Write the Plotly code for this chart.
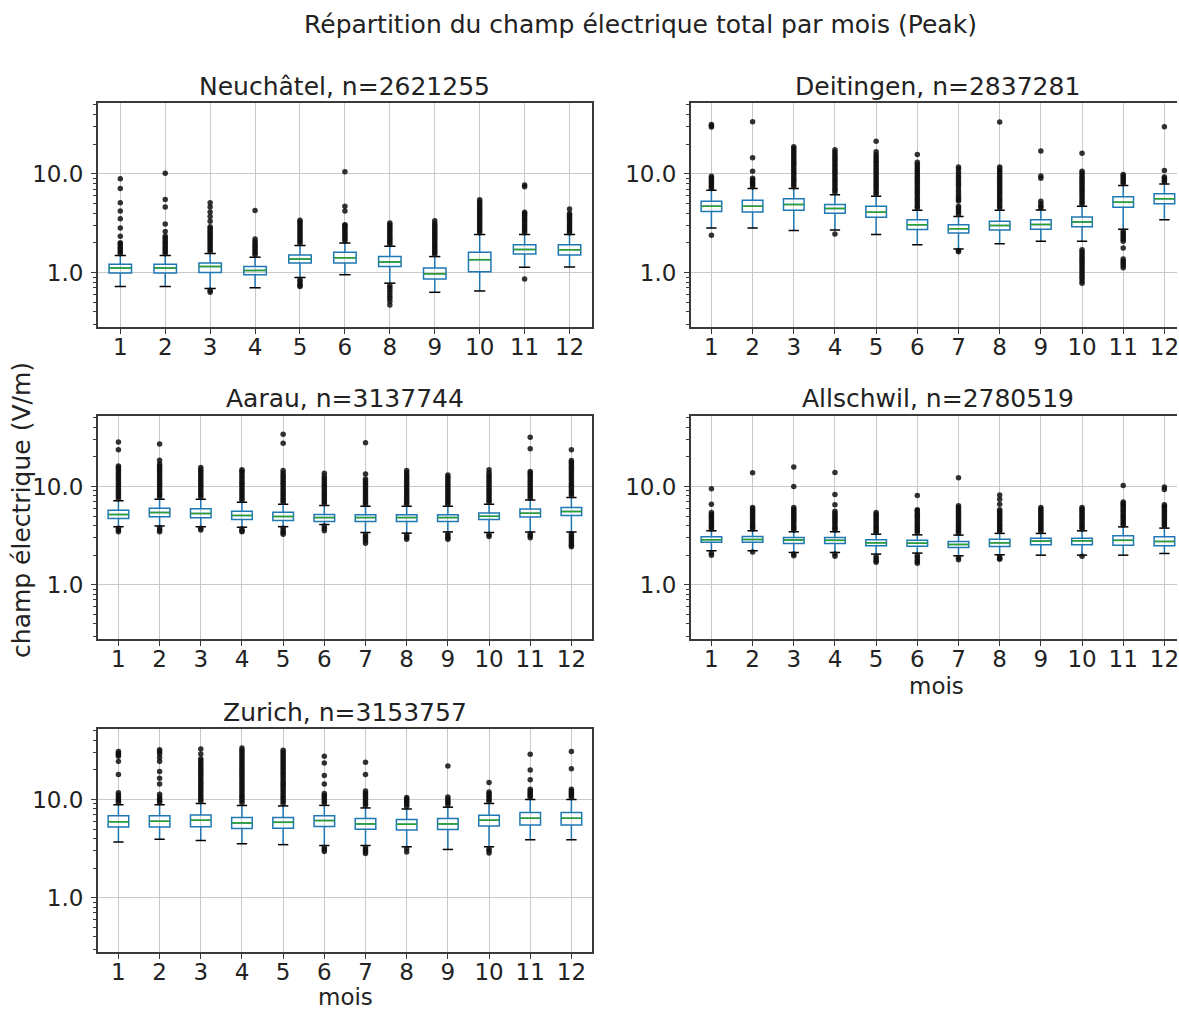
import plotly.graph_objects as go

# ---------------------------------------------------------------- data
MAIN_TITLE = "Répartition du champ électrique total par mois (Peak)"
Y_LABEL = "champ électrique (V/m)"
X_LABEL = "mois"

stations = ["Neuchâtel", "Deitingen", "Aarau", "Allschwil", "Zurich"]
n_obs = [2621255, 2837281, 3137744, 2780519, 3153757]

# Neuchâtel (no data for July)
neuchatel_months = [1, 2, 3, 4, 5, 6, 8, 9, 10, 11, 12]
neuchatel_q1 = [0.99, 0.99, 1.00, 0.95, 1.25, 1.25, 1.15, 0.86, 1.02, 1.54, 1.50]
neuchatel_med = [1.11, 1.11, 1.15, 1.05, 1.37, 1.41, 1.28, 0.97, 1.35, 1.71, 1.70]
neuchatel_q3 = [1.21, 1.21, 1.25, 1.15, 1.50, 1.60, 1.45, 1.11, 1.60, 1.91, 1.91]
neuchatel_lo = [0.72, 0.72, 0.69, 0.70, 0.89, 0.95, 0.78, 0.63, 0.65, 1.13, 1.14]
neuchatel_hi = [1.49, 1.49, 1.56, 1.43, 1.88, 1.99, 1.84, 1.45, 2.42, 2.42, 2.42]
neuchatel_fliers = [
    [1.55, 1.62, 1.70, 1.78, 1.86, 1.95, 2.0, 2.33, 2.83, 3.5, 4.19, 5.09, 7.1, 8.9],
    [1.55, 1.62, 1.70, 1.78, 1.86, 1.95, 2.04, 2.13, 2.23, 2.33, 2.6, 3.1, 4.6, 5.5, 10.1],
    [0.66, 0.63, 1.63, 1.70, 1.78, 1.86, 1.95, 2.04, 2.13, 2.23, 2.33, 2.44, 2.55, 2.67,
     2.8, 2.9, 3.3, 3.7, 4.1, 4.6, 5.1],
    [1.50, 1.57, 1.64, 1.72, 1.80, 1.88, 1.97, 2.06, 2.19, 4.24],
    [0.85, 0.81, 0.77, 0.74, 0.72, 1.97, 2.06, 2.16, 2.26, 2.37, 2.48, 2.6, 2.72, 2.85,
     2.98, 3.12, 3.25, 3.38],
    [2.08, 2.18, 2.28, 2.39, 2.5, 2.62, 2.74, 2.87, 3.0, 3.05, 4.19, 4.7, 10.5],
    [0.74, 0.70, 0.66, 0.62, 0.58, 0.55, 0.51, 0.47, 1.93, 2.02, 2.12, 2.22, 2.32, 2.43,
     2.54, 2.66, 2.78, 2.91, 3.05, 3.18],
    [1.52, 1.59, 1.66, 1.74, 1.82, 1.9, 1.99, 2.08, 2.18, 2.28, 2.39, 2.5, 2.62, 2.74,
     2.87, 3.0, 3.14, 3.35],
    [2.53, 2.65, 2.77, 2.9, 3.03, 3.17, 3.32, 3.47, 3.63, 3.8, 3.97, 4.15, 4.34, 4.54,
     4.75, 4.97, 5.2, 5.45],
    [0.86, 2.53, 2.65, 2.77, 2.9, 3.03, 3.17, 3.32, 3.47, 3.63, 3.8, 3.97, 4.07, 7.4, 7.7],
    [2.53, 2.65, 2.77, 2.9, 3.03, 3.17, 3.32, 3.47, 3.63, 3.8, 3.95, 4.4],
]

# Deitingen
deitingen_months = [1, 2, 3, 4, 5, 6, 7, 8, 9, 10, 11, 12]
deitingen_q1 = [4.14, 4.10, 4.27, 3.98, 3.62, 2.73, 2.51, 2.70, 2.75, 2.91, 4.58, 4.96]
deitingen_med = [4.69, 4.69, 4.88, 4.44, 4.07, 3.05, 2.78, 3.00, 3.07, 3.25, 5.15, 5.60]
deitingen_q3 = [5.27, 5.40, 5.57, 4.88, 4.69, 3.43, 3.05, 3.30, 3.43, 3.66, 5.84, 6.26]
deitingen_lo = [2.83, 2.83, 2.67, 2.70, 2.43, 1.91, 1.73, 1.96, 2.07, 2.07, 2.75, 3.43]
deitingen_hi = [6.80, 7.10, 7.10, 6.15, 5.92, 4.27, 3.70, 4.27, 4.30, 4.69, 7.60, 7.90]
deitingen_fliers = [
    [2.38, 7.1, 7.4, 7.7, 8.0, 8.35, 8.7, 9.05, 9.46, 29.8, 30.6, 31.5],
    [7.4, 7.7, 8.0, 8.35, 8.7, 9.0, 10.6, 14.5, 33.7],
    [7.4, 7.8, 8.2, 8.6, 9.0, 9.5, 10.0, 10.5, 11.0, 11.6, 12.2, 12.8, 13.4, 14.1, 14.8,
     15.5, 16.3, 17.1, 18.0, 18.8],
    [2.45, 6.45, 6.8, 7.1, 7.5, 7.9, 8.3, 8.7, 9.1, 9.6, 10.1, 10.6, 11.1, 11.7, 12.3,
     12.9, 13.6, 14.3, 15.0, 15.8, 16.6, 17.5],
    [6.2, 6.5, 6.85, 7.2, 7.55, 7.9, 8.3, 8.7, 9.15, 9.6, 10.1, 10.6, 11.1, 11.7, 12.3,
     12.9, 13.5, 14.2, 14.9, 15.7, 16.7, 21.3],
    [4.5, 4.7, 4.95, 5.2, 5.45, 5.7, 6.0, 6.3, 6.6, 6.9, 7.25, 7.6, 8.0, 8.4, 8.8, 9.2,
     9.7, 10.2, 10.7, 11.2, 11.8, 12.4, 13.1, 15.7],
    [1.67, 1.62, 3.9, 4.1, 4.3, 4.5, 4.69, 5.3, 5.5, 5.8, 6.1, 6.5, 6.9, 7.4, 7.8, 8.2,
     8.7, 9.2, 9.8, 10.4, 11.2, 11.7],
    [4.5, 4.7, 4.95, 5.2, 5.45, 5.7, 6.0, 6.3, 6.6, 6.9, 7.25, 7.6, 8.0, 8.4, 8.8, 9.2,
     9.7, 10.2, 10.7, 11.2, 11.7, 33.4],
    [4.5, 4.7, 4.95, 5.27, 9.0, 9.5, 17.0],
    [0.78, 0.82, 0.87, 0.91, 0.96, 1.01, 1.06, 1.11, 1.17, 1.23, 1.29, 1.35, 1.41, 1.48,
     1.55, 1.62, 1.7, 4.9, 5.15, 5.4, 5.7, 6.0, 6.3, 6.6, 6.9, 7.25, 7.6, 8.0, 8.4, 8.8,
     9.2, 9.7, 10.2, 10.6, 16.1],
    [1.12, 1.18, 1.24, 1.3, 1.37, 1.77, 2.07, 2.17, 2.27, 2.38, 2.5, 2.62, 7.95, 8.3, 8.7,
     9.1, 9.5, 9.85],
    [8.25, 8.6, 9.0, 9.3, 10.8, 30.0],
]

# Aarau
aarau_months = [1, 2, 3, 4, 5, 6, 7, 8, 9, 10, 11, 12]
aarau_q1 = [4.73, 4.91, 4.80, 4.60, 4.50, 4.40, 4.40, 4.40, 4.40, 4.60, 4.90, 5.06]
aarau_med = [5.19, 5.44, 5.30, 5.06, 4.95, 4.82, 4.82, 4.82, 4.82, 4.97, 5.35, 5.56]
aarau_q3 = [5.74, 6.02, 5.93, 5.60, 5.47, 5.20, 5.15, 5.15, 5.15, 5.37, 5.90, 6.10]
aarau_lo = [3.90, 3.95, 3.90, 3.85, 3.90, 4.10, 3.40, 3.35, 3.45, 3.40, 3.45, 3.45]
aarau_hi = [7.14, 7.43, 7.43, 6.90, 6.60, 6.40, 6.30, 6.30, 6.30, 6.60, 7.30, 7.70]
aarau_fliers = [
    [3.46, 3.6, 3.75, 7.5, 7.9, 8.3, 8.7, 9.1, 9.6, 10.1, 10.6, 11.1, 11.7, 12.3, 12.9,
     13.5, 14.2, 14.9, 15.6, 16.2, 23.7, 28.4],
    [3.46, 3.6, 3.8, 7.8, 8.2, 8.6, 9.0, 9.5, 10.0, 10.5, 11.0, 11.6, 12.2, 12.8, 13.4,
     14.1, 14.8, 15.5, 16.2, 16.9, 18.5, 27.1],
    [3.6, 3.75, 7.8, 8.2, 8.6, 9.0, 9.5, 10.0, 10.5, 11.0, 11.6, 12.2, 12.8, 13.4, 14.1,
     14.8, 15.6],
    [3.46, 3.55, 3.7, 7.25, 7.6, 8.0, 8.4, 8.8, 9.2, 9.7, 10.2, 10.7, 11.2, 11.8, 12.4,
     13.0, 13.7, 14.3, 14.8],
    [3.27, 3.4, 3.55, 3.75, 6.9, 7.25, 7.6, 8.0, 8.4, 8.8, 9.2, 9.7, 10.2, 10.7, 11.2,
     11.8, 12.4, 13.0, 13.7, 14.5, 27.5, 34.0],
    [3.55, 3.75, 3.95, 6.7, 7.0, 7.35, 7.7, 8.1, 8.5, 8.9, 9.3, 9.8, 10.3, 10.8, 11.4,
     12.0, 12.6, 13.6],
    [2.65, 2.8, 2.95, 3.1, 3.25, 6.6, 6.9, 7.25, 7.6, 8.0, 8.4, 8.8, 9.2, 9.7, 10.2,
     10.7, 11.3, 11.9, 13.4, 27.9],
    [2.9, 3.05, 3.2, 6.6, 6.9, 7.25, 7.6, 8.0, 8.4, 8.8, 9.2, 9.7, 10.2, 10.7, 11.3,
     11.9, 12.5, 13.1, 13.8, 14.5],
    [2.9, 3.0, 3.15, 3.3, 6.6, 6.9, 7.25, 7.6, 8.0, 8.4, 8.8, 9.2, 9.7, 10.2, 10.7, 11.3,
     11.9, 12.5, 13.1],
    [3.1, 3.25, 6.9, 7.25, 7.6, 8.0, 8.4, 8.8, 9.2, 9.7, 10.2, 10.7, 11.3, 11.9, 12.5,
     13.1, 13.8, 14.8],
    [3.0, 3.15, 3.3, 7.6, 8.0, 8.4, 8.8, 9.2, 9.7, 10.2, 10.7, 11.3, 11.9, 12.5, 13.1,
     13.7, 14.2, 24.2, 31.6],
    [2.43, 2.52, 2.63, 2.75, 2.87, 3.0, 3.15, 3.3, 8.1, 8.5, 8.9, 9.3, 9.8, 10.3, 10.8,
     11.4, 12.0, 12.6, 13.2, 13.9, 14.6, 15.3, 16.1, 16.9, 17.6, 18.4, 23.7],
]

# Allschwil
allschwil_months = [1, 2, 3, 4, 5, 6, 7, 8, 9, 10, 11, 12]
allschwil_q1 = [2.70, 2.70, 2.63, 2.63, 2.49, 2.47, 2.40, 2.45, 2.55, 2.55, 2.53, 2.49]
allschwil_med = [2.87, 2.89, 2.85, 2.83, 2.67, 2.65, 2.57, 2.67, 2.78, 2.80, 2.83, 2.76]
allschwil_q3 = [3.07, 3.10, 3.03, 3.03, 2.87, 2.83, 2.76, 2.91, 2.98, 2.98, 3.15, 3.07]
allschwil_lo = [2.22, 2.22, 2.13, 2.13, 2.05, 2.10, 1.97, 2.02, 2.00, 2.00, 2.00, 2.08]
allschwil_hi = [3.54, 3.54, 3.46, 3.46, 3.27, 3.22, 3.20, 3.33, 3.33, 3.54, 3.88, 3.77]
allschwil_fliers = [
    [2.0, 2.1, 3.7, 3.85, 4.0, 4.2, 4.4, 4.6, 4.8, 5.0, 5.2, 5.44, 6.6, 9.5],
    [2.15, 3.7, 3.85, 4.0, 4.2, 4.4, 4.6, 4.8, 5.0, 5.2, 5.45, 5.7, 5.9, 6.1, 13.8],
    [1.97, 2.05, 3.6, 3.75, 3.9, 4.1, 4.3, 4.5, 4.7, 4.9, 5.1, 5.35, 5.6, 5.85, 6.1,
     10.0, 15.8],
    [1.95, 2.05, 3.6, 3.75, 3.9, 4.1, 4.3, 4.5, 4.7, 4.9, 5.1, 5.35, 5.6, 6.5, 8.3, 13.9],
    [1.69, 1.77, 1.85, 1.95, 3.4, 3.55, 3.7, 3.85, 4.0, 4.2, 4.4, 4.6, 4.8, 5.0, 5.2, 5.44],
    [1.65, 1.72, 1.8, 1.9, 2.0, 3.4, 3.55, 3.7, 3.85, 4.0, 4.2, 4.4, 4.6, 4.8, 5.0, 5.2,
     5.45, 5.7, 5.8, 8.1],
    [1.80, 1.88, 3.35, 3.5, 3.65, 3.8, 3.95, 4.1, 4.3, 4.5, 4.7, 4.9, 5.1, 5.35, 5.6,
     5.85, 6.1, 6.35, 12.3],
    [1.82, 1.85, 1.93, 3.5, 3.65, 3.8, 3.95, 4.1, 4.3, 4.5, 4.7, 4.9, 5.1, 5.35, 5.6, 5.8,
     6.6, 7.4, 8.2],
    [3.5, 3.65, 3.8, 3.95, 4.1, 4.3, 4.5, 4.7, 4.9, 5.1, 5.35, 5.6, 5.85, 6.1],
    [1.95, 3.7, 3.85, 4.0, 4.2, 4.4, 4.6, 4.8, 5.0, 5.2, 5.45, 5.7, 5.9, 6.1],
    [4.05, 4.2, 4.4, 4.6, 4.8, 5.0, 5.2, 5.45, 5.7, 5.95, 6.2, 6.45, 6.7, 6.95, 10.2],
    [3.95, 4.1, 4.3, 4.5, 4.7, 4.9, 5.1, 5.35, 5.6, 5.85, 6.1, 6.3, 6.5, 9.3, 9.9],
]

# Zurich
zurich_months = [1, 2, 3, 4, 5, 6, 7, 8, 9, 10, 11, 12]
zurich_q1 = [5.24, 5.24, 5.28, 5.06, 5.10, 5.32, 4.98, 4.90, 4.94, 5.36, 5.51, 5.51]
zurich_med = [5.94, 6.00, 6.15, 5.75, 5.85, 6.10, 5.64, 5.60, 5.64, 6.15, 6.45, 6.45]
zurich_q3 = [6.84, 6.84, 6.94, 6.55, 6.55, 6.84, 6.42, 6.27, 6.42, 6.90, 7.35, 7.35]
zurich_lo = [3.69, 3.93, 3.83, 3.55, 3.47, 3.40, 3.40, 3.30, 3.10, 3.30, 3.90, 3.90]
zurich_hi = [8.84, 8.84, 9.10, 8.70, 8.60, 8.70, 8.20, 8.00, 8.35, 9.10, 10.0, 10.0]
zurich_fliers = [
    [9.3, 9.7, 10.1, 10.6, 11.1, 11.7, 17.9, 24.4, 27.5, 28.5, 29.5, 30.8],
    [9.3, 9.7, 10.1, 10.6, 11.3, 14.4, 16.4, 19.2, 24.4, 26.5, 29.0, 30.5, 32.0],
    [9.6, 10.1, 10.6, 11.1, 11.7, 12.3, 12.9, 13.6, 14.3, 15.0, 15.8, 16.6, 17.5, 18.4,
     19.3, 20.3, 21.3, 22.4, 23.5, 24.7, 26.0, 29.0, 32.7],
    [9.2, 9.7, 10.2, 10.7, 11.2, 11.8, 12.4, 13.0, 13.7, 14.4, 15.1, 15.9, 16.7, 17.5,
     18.4, 19.3, 20.3, 21.3, 22.4, 23.5, 24.7, 26.0, 27.3, 28.7, 30.2, 31.7, 33.4],
    [9.1, 9.6, 10.1, 10.6, 11.1, 11.7, 12.3, 12.9, 13.6, 14.3, 15.0, 15.8, 16.6, 17.5,
     18.4, 19.3, 20.3, 21.3, 22.4, 23.5, 24.7, 26.0, 27.3, 28.7, 30.2, 31.7],
    [2.96, 3.1, 3.25, 9.2, 9.6, 10.1, 10.6, 11.0, 11.5, 14.4, 17.5, 23.5, 27.5],
    [2.82, 2.96, 3.1, 3.25, 8.7, 9.1, 9.6, 10.1, 10.6, 11.1, 11.6, 12.2, 17.9, 23.9],
    [2.92, 3.15, 8.5, 8.9, 9.3, 9.7, 10.1, 10.5],
    [8.8, 9.2, 9.6, 10.1, 10.6, 21.9],
    [2.85, 3.0, 3.15, 9.6, 10.0, 10.5, 10.9, 11.4, 11.9, 14.9],
    [10.5, 10.9, 11.3, 11.8, 12.2, 12.7, 15.9, 20.0, 28.8],
    [10.5, 10.9, 11.3, 11.8, 12.2, 12.7, 20.5, 30.8],
]

y_tick_values = [1, 10]
y_tick_labels = ["1.0", "10.0"]
y_minor_values = [0.3, 0.4, 0.5, 0.6, 0.7, 0.8, 0.9, 2, 3, 4, 5, 6, 7, 8, 9, 20, 30, 40, 50]

# ---------------------------------------------------------------- styling
W, H = 1179, 1009
BOX_BLUE = "#1f77b4"
MEDIAN_GREEN = "#2ca02c"
SPINE = "#3a3a3a"
GRID = "#c9c9c9"
TEXT = "#222222"
FONT = "DejaVu Sans"
BOX_W = 0.5
CAP_W = 0.25

# pixel frames of each panel: (left, right, top, bottom)
frames = [
    (98, 593, 103, 327),
    (692, 1187, 103, 327),
    (98, 593, 416, 639),
    (692, 1187, 416, 639),
    (98, 593, 729, 952),
]
Y_RANGE = [-0.552, 1.717]

panels = [
    (neuchatel_months, neuchatel_q1, neuchatel_med, neuchatel_q3, neuchatel_lo,
     neuchatel_hi, neuchatel_fliers),
    (deitingen_months, deitingen_q1, deitingen_med, deitingen_q3, deitingen_lo,
     deitingen_hi, deitingen_fliers),
    (aarau_months, aarau_q1, aarau_med, aarau_q3, aarau_lo, aarau_hi, aarau_fliers),
    (allschwil_months, allschwil_q1, allschwil_med, allschwil_q3, allschwil_lo,
     allschwil_hi, allschwil_fliers),
    (zurich_months, zurich_q1, zurich_med, zurich_q3, zurich_lo, zurich_hi, zurich_fliers),
]

fig = go.Figure()
layout_axes = {}
annotations = []

for i, (months, q1, med, q3, lo, hi, fliers) in enumerate(panels):
    k = i + 1
    xref = "x" if k == 1 else f"x{k}"
    yref = "y" if k == 1 else f"y{k}"
    pos = list(range(1, len(months) + 1))

    # boxes and whiskers
    fig.add_trace(go.Box(
        x=pos, q1=q1, median=med, q3=q3, lowerfence=lo, upperfence=hi,
        width=BOX_W, whiskerwidth=0, boxpoints=False,
        line=dict(color=BOX_BLUE, width=1.5), fillcolor="rgba(0,0,0,0)",
        xaxis=xref, yaxis=yref, showlegend=False, hoverinfo="skip",
    ))

    # whisker caps (black) and medians (green)
    cx, cy, mx, my = [], [], [], []
    for p, a, b, m in zip(pos, lo, hi, med):
        cx += [p - CAP_W / 2, p + CAP_W / 2, None, p - CAP_W / 2, p + CAP_W / 2, None]
        cy += [a, a, None, b, b, None]
        mx += [p - BOX_W / 2, p + BOX_W / 2, None]
        my += [m, m, None]
    fig.add_trace(go.Scatter(x=cx, y=cy, mode="lines", line=dict(color="black", width=1.5),
                             xaxis=xref, yaxis=yref, showlegend=False, hoverinfo="skip"))
    fig.add_trace(go.Scatter(x=mx, y=my, mode="lines",
                             line=dict(color=MEDIAN_GREEN, width=1.5),
                             xaxis=xref, yaxis=yref, showlegend=False, hoverinfo="skip"))

    # outliers
    fx, fy = [], []
    for p, vals in zip(pos, fliers):
        fx += [p] * len(vals)
        fy += vals
    fig.add_trace(go.Scatter(x=fx, y=fy, mode="markers",
                             marker=dict(color="rgba(15,15,15,0.85)", size=5.5, line=dict(width=0)),
                             xaxis=xref, yaxis=yref, showlegend=False, hoverinfo="skip"))

    left, right, top, bottom = frames[i]
    vis_right = min(right, W)
    n = len(months)
    x_hi = 0.5 + n * (vis_right - left) / (right - left)
    right_col = left > 500

    layout_axes["xaxis" if k == 1 else f"xaxis{k}"] = dict(
        domain=[left / W, vis_right / W], range=[0.5, x_hi], anchor=yref,
        tickmode="array", tickvals=pos, ticktext=[str(m) for m in months],
        ticks="outside", ticklen=5, tickwidth=1.2, tickcolor=SPINE,
        ticklabelstandoff=-6, ticklabeloverflow="allow",
        showgrid=True, gridcolor=GRID, gridwidth=1.2, zeroline=False,
        showline=True, linecolor=SPINE, linewidth=1.6, mirror=True,
        tickfont=dict(family=FONT, size=23, color=TEXT),
    )
    layout_axes["yaxis" if k == 1 else f"yaxis{k}"] = dict(
        domain=[1 - bottom / H, 1 - top / H], type="log", range=Y_RANGE, anchor=xref,
        tickmode="array", tickvals=y_tick_values, ticktext=y_tick_labels,
        ticks="outside", ticklen=5, tickwidth=1.2, tickcolor=SPINE, ticklabelstandoff=3,
        minor=dict(tickmode="array", tickvals=y_minor_values, ticks="outside",
                   ticklen=3, tickwidth=1, tickcolor=SPINE, showgrid=False),
        showgrid=True, gridcolor=GRID, gridwidth=1.2, zeroline=False,
        showline=True, linecolor=SPINE, linewidth=1.6, mirror=not right_col,
        tickfont=dict(family=FONT, size=23, color=TEXT),
    )

    # panel title
    annotations.append(dict(
        text=f"{stations[i]}, n={n_obs[i]}", xref="paper", yref="paper",
        x=(left + right) / 2 / W, y=1 - (top - 17) / H, xanchor="center", yanchor="middle",
        showarrow=False, font=dict(family=FONT, size=25, color=TEXT),
    ))

annotations += [
    dict(text=MAIN_TITLE, xref="paper", yref="paper", x=642 / W, y=1 - 25 / H,
         xanchor="center", yanchor="middle", showarrow=False,
         font=dict(family=FONT, size=25, color=TEXT)),
    dict(text=Y_LABEL, xref="paper", yref="paper", x=22 / W, y=1 - 510 / H, textangle=-90,
         xanchor="center", yanchor="middle", showarrow=False,
         font=dict(family=FONT, size=25, color=TEXT)),
    dict(text=X_LABEL, xref="paper", yref="paper", x=938 / W, y=1 - 686 / H,
         xanchor="center", yanchor="middle", showarrow=False,
         font=dict(family=FONT, size=23, color=TEXT)),
    dict(text=X_LABEL, xref="paper", yref="paper", x=346 / W, y=0,
         xanchor="center", yanchor="bottom", yshift=-2, borderpad=0, showarrow=False,
         font=dict(family=FONT, size=23, color=TEXT)),
]

fig.update_layout(
    width=W, height=H, margin=dict(l=0, r=0, t=0, b=0),
    paper_bgcolor="white", plot_bgcolor="white",
    annotations=annotations, boxmode="overlay",
    font=dict(family=FONT, color=TEXT),
    **layout_axes,
)

fig.write_html("out.html")
